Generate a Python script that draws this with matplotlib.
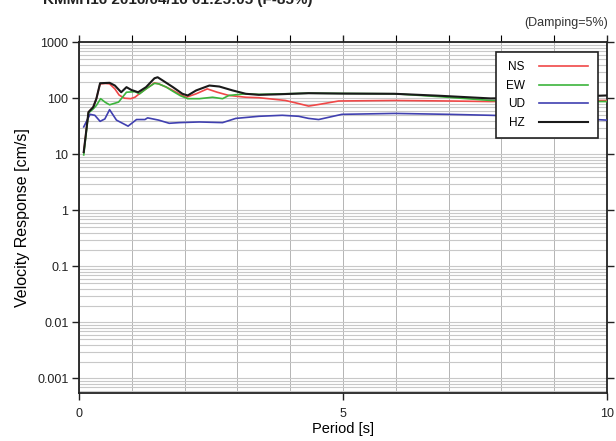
import matplotlib
matplotlib.use("Agg")
import matplotlib.pyplot as plt
from matplotlib.ticker import FixedLocator, LogLocator, NullFormatter, MultipleLocator

plt.rcParams["font.family"] = ["Liberation Sans", "DejaVu Sans"]

# velocity response spectra, h = 5%
ns_period = [0.09, 0.18, 0.27, 0.33, 0.40, 0.50, 0.58, 0.68, 0.76, 0.86, 0.98, 1.06, 1.18,
             1.30, 1.43, 1.51, 1.65, 1.78, 1.92, 2.03, 2.22, 2.43, 2.62, 2.84, 3.16, 3.41,
             3.91, 4.16, 4.35, 4.54, 4.92, 5.98, 7.0, 7.8, 9.0, 10.0]
ns_vel = [11, 57, 70, 99, 182, 185, 182, 148, 115, 101, 99, 105, 129,
          155, 190, 182, 160, 139, 118, 105, 121, 148, 129, 113, 105, 103,
          92, 81, 73, 78, 90, 92, 90, 88, 91, 92]

ew_period = [0.09, 0.18, 0.27, 0.33, 0.41, 0.50, 0.58, 0.75, 0.90, 1.06, 1.15, 1.27, 1.43,
             1.51, 1.65, 1.78, 1.92, 2.06, 2.28, 2.53, 2.72, 2.84, 3.16, 3.41, 4.35,
             5.98, 6.8, 7.8, 9.0, 10.0]
ew_vel = [9.8, 55, 65, 75, 99, 85, 77, 86, 129, 132, 121, 148, 186,
          182, 160, 134, 112, 99, 99, 105, 99, 113, 121, 118, 124,
          121, 108, 92, 89, 88]

ud_period = [0.09, 0.21, 0.30, 0.40, 0.49, 0.58, 0.71, 0.93, 1.09, 1.25, 1.30, 1.51, 1.71,
             1.90, 2.28, 2.72, 2.97, 3.41, 3.85, 4.16, 4.35, 4.54, 4.98, 5.98, 7.0, 7.8,
             9.0, 10.0]
ud_vel = [31, 52, 50, 39, 43, 63, 41, 32, 42, 42, 45, 41, 36,
          37, 38, 37, 44, 48, 50, 48, 44, 42, 52, 54, 52, 50,
          46, 41]

hz_period = [0.09, 0.18, 0.27, 0.33, 0.40, 0.58, 0.68, 0.80, 0.90, 0.99, 1.12, 1.27, 1.43,
             1.49, 1.59, 1.78, 1.96, 2.06, 2.22, 2.47, 2.66, 2.91, 3.16, 3.41, 3.72,
             4.35, 5.0, 5.98, 6.8, 7.8, 9.0, 10.0]
hz_vel = [11, 57, 70, 99, 187, 190, 170, 129, 159, 142, 129, 159, 229,
          239, 208, 159, 121, 113, 139, 170, 163, 139, 121, 116, 118,
          124, 122, 121, 112, 100, 105, 113]

y_ticks = [0.001, 0.01, 0.1, 1, 10, 100, 1000]
y_tick_labels = ["0.001", "0.01", "0.1", "1", "10", "100", "1000"]
x_ticks = [0, 5, 10]

fig = plt.figure(figsize=(6.16, 4.41), dpi=100)
ax = fig.add_axes([0.1282, 0.1088, 0.857, 0.795])

ax.plot(ns_period, ns_vel, color="#f04848", lw=1.2, label="NS", zorder=3)
ax.plot(ew_period, ew_vel, color="#3cb43c", lw=1.2, label="EW", zorder=3)
ax.plot(ud_period, ud_vel, color="#4040b0", lw=1.2, label="UD", zorder=3)
ax.plot(hz_period, hz_vel, color="#1a1a1a", lw=1.5, label="HZ", zorder=4)

ax.set_yscale("log")
ax.set_xlim(0, 10)
ax.set_ylim(5.5e-4, 1000)

ax.yaxis.set_major_locator(FixedLocator(y_ticks))
ax.set_yticklabels(y_tick_labels)
ax.yaxis.set_minor_locator(LogLocator(base=10, subs=range(2, 10), numticks=20))
ax.yaxis.set_minor_formatter(NullFormatter())
ax.xaxis.set_major_locator(FixedLocator(x_ticks))
ax.xaxis.set_minor_locator(MultipleLocator(1))

ax.grid(which="both", axis="y", color="#c8c8c8", lw=0.8)
ax.grid(which="both", axis="x", color="#b4b4b4", lw=0.7)
ax.set_axisbelow(True)

ax.tick_params(which="major", direction="out", length=5, width=1, labelsize=9,
               colors="#222222", right=True, top=True, pad=2.5)
ax.tick_params(axis="y", which="minor", length=0)
ax.tick_params(axis="x", which="minor", direction="out", length=5, width=0.8,
               top=True, bottom=False)
ax.tick_params(axis="x", pad=6)
for spine in ax.spines.values():
    spine.set_linewidth(1.3)
    spine.set_color("#222222")

ax.set_xlabel("Period [s]", fontsize=10.5, labelpad=1)
ax.set_ylabel("Velocity Response [cm/s]", fontsize=11.5, labelpad=5)

leg = ax.legend(loc="upper right", bbox_to_anchor=(0.983, 0.973), borderaxespad=0,
                markerfirst=False, fancybox=False, fontsize=8.5, handlelength=4.2,
                labelspacing=0.55, borderpad=0.8, handletextpad=1.2, framealpha=1)
leg.get_frame().set_edgecolor("#222222")
leg.get_frame().set_linewidth(1.2)

fig.text(0.987, 0.948, "(Damping=5%)", ha="right", va="center", fontsize=9, color="#333333")
fig.text(0.07, 0.991, "KMMH16 2016/04/16 01:25:05 (F-85%)", ha="left", va="baseline",
         fontsize=11, fontweight="bold", color="#222222")

fig.savefig("out.png", dpi=100)
